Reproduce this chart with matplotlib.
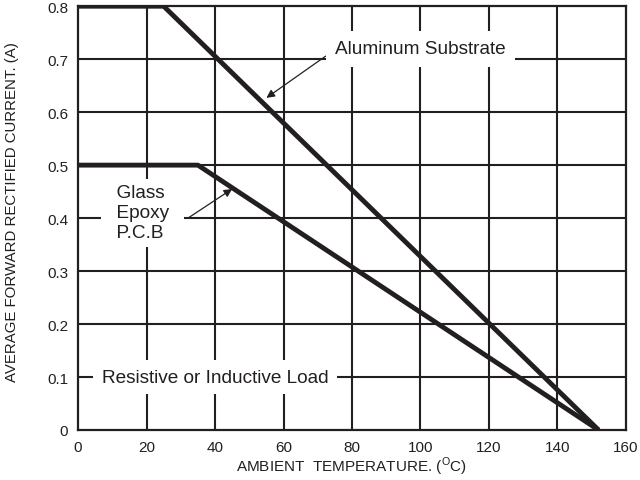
import matplotlib.pyplot as plt
import numpy as np

plt.rcParams['font.family'] = ['Liberation Sans', 'DejaVu Sans']
plt.rcParams['mathtext.fontset'] = 'custom'
plt.rcParams['mathtext.rm'] = 'Liberation Sans'

ink = '#231f20'

# derating curves (temperature in C, current in A)
alu_temp = [0, 25, 152]
alu_current = [0.8, 0.8, 0.0]
pcb_temp = [0, 35, 152]
pcb_current = [0.5, 0.5, 0.0]

xticks = [0, 20, 40, 60, 80, 100, 120, 140, 160]
yticks = [0, 0.1, 0.2, 0.3, 0.4, 0.5, 0.6, 0.7, 0.8]
ytick_labels = ['0', '0.1', '0.2', '0.3', '0.4', '0.5', '0.6', '0.7', '0.8']

fig = plt.figure(figsize=(6.4, 4.81), dpi=100)
ax = fig.add_axes([0.122, 0.104, 0.856, 0.881])

for x in xticks[1:-1]:
    ax.axvline(x, color=ink, linewidth=1.5, zorder=1)
for y in yticks[1:-1]:
    ax.axhline(y, color=ink, linewidth=1.5, zorder=1)

ax.plot(alu_temp, alu_current, color=ink, linewidth=3.5, solid_capstyle='butt', zorder=3)
ax.plot(pcb_temp, pcb_current, color=ink, linewidth=3.5, solid_capstyle='butt', zorder=3)

ax.set_xlim(0, 160)
ax.set_ylim(0, 0.8)
ax.set_xticks(xticks)
ax.set_yticks(yticks)
ax.set_yticklabels(ytick_labels)
ax.tick_params(length=0, pad=7, labelsize=11, colors=ink)
for s in ax.spines.values():
    s.set_color(ink)
    s.set_linewidth(1.6)

arrow = dict(arrowstyle='-|>', color=ink, linewidth=0.9, mutation_scale=12,
             shrinkA=0, shrinkB=0)
ax.annotate('Aluminum Substrate', xy=(55, 0.627), xytext=(100, 0.72),
            ha='center', va='center', fontsize=13.7, color=ink, zorder=5,
            bbox=dict(boxstyle='square,pad=0.5', facecolor='white', edgecolor='none'),
            arrowprops=dict(arrow, relpos=(0, 0.45)))

sp = '\u2002'
ax.text(18.8, 0.41, sp + 'Glass' + sp + '\n' + sp + 'Epoxy' + sp + '\n' + sp + 'P.C.B' + sp,
        ha='center', va='center', multialignment='left', fontsize=13.7, color=ink,
        linespacing=1.22, zorder=5,
        bbox=dict(boxstyle='square,pad=0.3', facecolor='white', edgecolor='none'))
ax.annotate('', xy=(45, 0.455), xytext=(32.1, 0.40), zorder=5, arrowprops=arrow)

ax.text(40, 0.1, 'Resistive or Inductive Load', ha='center', va='center',
        fontsize=13.7, color=ink, zorder=5,
        bbox=dict(boxstyle='square,pad=0.45', facecolor='white', edgecolor='none'))

ax.set_xlabel(r'AMBIENT  TEMPERATURE. ($^{\mathrm{O}}$C)', fontsize=11, color=ink, labelpad=1)
ax.set_ylabel('AVERAGE FORWARD RECTIFIED CURRENT. (A)', fontsize=10.8, color=ink)
ax.yaxis.set_label_coords(-0.108, 0.517)

fig.savefig('out.png', dpi=100)
